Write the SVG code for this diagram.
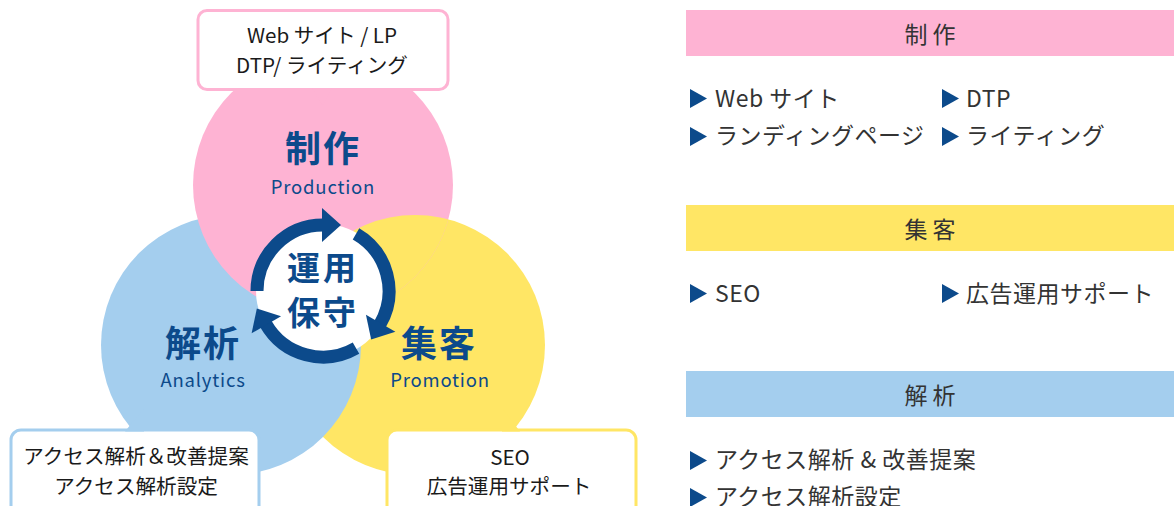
<svg xmlns="http://www.w3.org/2000/svg" xmlns:xlink="http://www.w3.org/1999/xlink" width="1174" height="506" viewBox="0 0 1174 506">
<style>
text{font-family:"Noto Sans CJK JP","Noto Sans",sans-serif}
.pink{fill:#feb3d3}
.yellow{fill:#ffe665}
.blue{fill:#a4ceee}
.navy{fill:#0c4a8b}
.big{font-size:36px;font-weight:700;fill:#0c4a8b;text-anchor:middle;letter-spacing:2px}
.en{font-size:18.5px;fill:#0c4a8b;text-anchor:middle;letter-spacing:0.8px}
.call{font-size:20.6px;fill:#1a1a1a;text-anchor:middle}
.head{font-size:23px;fill:#333;text-anchor:middle}
.item{font-size:23px;fill:#333;letter-spacing:0.5px}
.ctr{font-size:33px;font-weight:700;fill:#0c4a8b;text-anchor:middle;letter-spacing:3px}
.ring{fill:none;stroke:#0c4a8b;stroke-width:13}
</style>
<defs>
<clipPath id="clipPink"><circle cx="323" cy="185" r="130"/></clipPath>
<polygon id="tri" points="0,0 17,9.5 0,19" fill="#0c4a8b"/>
<g id="arrowSeg">
<path class="ring" d="M257,291 A66,66 0 0 1 323,225"/>
<polygon class="navy" points="322,208 341,225 322,242"/>
</g>
</defs>
<rect width="1174" height="506" fill="#fff"/>

<g id="circles">
<circle id="circle-promotion" class="yellow" cx="415" cy="345" r="130"/>
<circle id="circle-analytics" class="blue" cx="231" cy="345" r="130"/>
<circle id="circle-production" class="pink" cx="323" cy="185" r="130"/>
<circle class="yellow" cx="415" cy="345" r="130" clip-path="url(#clipPink)"/>
</g>

<g id="node-production">
<text class="big" x="323" y="162">制作</text>
<text class="en" x="323" y="194">Production</text>
</g>
<g id="node-analytics">
<text class="big" x="203" y="357">解析</text>
<text class="en" x="203" y="387">Analytics</text>
</g>
<g id="node-promotion">
<text class="big" x="439" y="357">集客</text>
<text class="en" x="440" y="387">Promotion</text>
</g>

<g id="node-center">
<circle cx="323" cy="291" r="67" fill="#fff"/>
<text class="ctr" x="323" y="280">運用</text>
<text class="ctr" x="323" y="325">保守</text>
</g>

<g id="connectors">
<use xlink:href="#arrowSeg"/>
<use xlink:href="#arrowSeg" transform="rotate(120 323 291)"/>
<use xlink:href="#arrowSeg" transform="rotate(240 323 291)"/>
</g>

<g id="callout-production">
<rect x="198" y="10.5" width="250" height="79" rx="9" fill="#fff" stroke="#feb3d3" stroke-width="3"/>
<polygon class="pink" points="312,88 332,88 323,106"/>
<text class="call" x="322" y="43">Web サイト / LP</text>
<text class="call" x="322" y="73">DTP/ ライティング</text>
</g>

<g id="callout-analytics">
<rect x="11" y="430" width="248" height="100" rx="10" fill="#fff" stroke="#a4ceee" stroke-width="3"/>
<polygon class="blue" points="125,431.5 144,431.5 144,408"/>
<text class="call" x="136" y="464">アクセス解析＆改善提案</text>
<text class="call" x="136" y="494">アクセス解析設定</text>
</g>

<g id="callout-promotion">
<rect x="387" y="430" width="249" height="100" rx="10" fill="#fff" stroke="#ffe665" stroke-width="3"/>
<polygon class="yellow" points="502,431.5 502,408 520,431.5"/>
<text class="call" x="510" y="465">SEO</text>
<text class="call" x="509" y="494">広告運用サポート</text>
</g>

<g id="list-production">
<rect class="pink" x="686" y="10" width="488" height="46"/>
<text class="head" x="930" y="43">制 作</text>
<use xlink:href="#tri" x="690" y="89"/>
<text class="item" x="715" y="107">Web サイト</text>
<use xlink:href="#tri" x="942" y="89"/>
<text class="item" x="966" y="107">DTP</text>
<use xlink:href="#tri" x="690" y="127"/>
<text class="item" x="715" y="144">ランディングページ</text>
<use xlink:href="#tri" x="942" y="127"/>
<text class="item" x="966" y="144">ライティング</text>
</g>

<g id="list-promotion">
<rect class="yellow" x="686" y="205" width="488" height="46"/>
<text class="head" x="930" y="238">集 客</text>
<use xlink:href="#tri" x="690" y="284"/>
<text class="item" x="715" y="302">SEO</text>
<use xlink:href="#tri" x="942" y="284"/>
<text class="item" x="966" y="302">広告運用サポート</text>
</g>

<g id="list-analytics">
<rect class="blue" x="686" y="371" width="488" height="46"/>
<text class="head" x="930" y="404">解 析</text>
<use xlink:href="#tri" x="690" y="451"/>
<text class="item" x="715" y="468">アクセス解析 &amp; 改善提案</text>
<use xlink:href="#tri" x="690" y="488"/>
<text class="item" x="715" y="505">アクセス解析設定</text>
</g>
</svg>
